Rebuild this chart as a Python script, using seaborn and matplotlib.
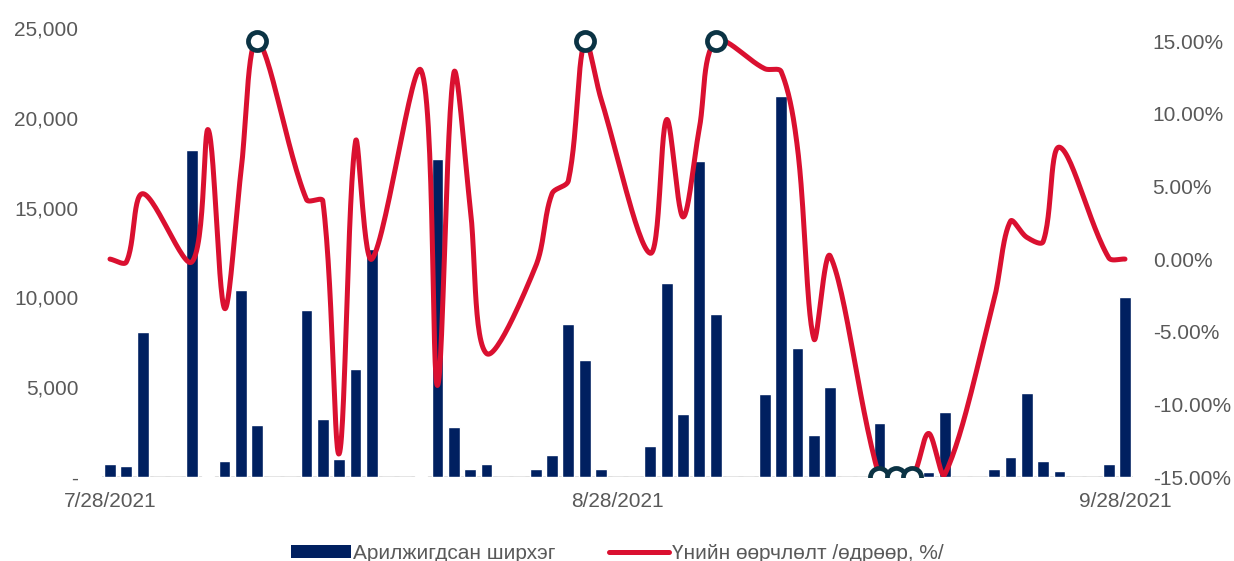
import numpy as np
import pandas as pd
import seaborn as sns
import matplotlib.pyplot as plt
from matplotlib.lines import Line2D
from matplotlib.patches import Patch

# daily data, 7/28/2021 .. 9/28/2021 (weekends: no trades, no price change point)
dates = pd.date_range('2021-07-28', '2021-09-28', freq='D')
volume = [700, 600, 8100, 0, 0, 18200, 50, 900, 10400, 2900,
          0, 0, 9300, 3250, 1000, 6000, 12700, 0, 0, 50,
          17700, 2800, 430, 720, 0, 0, 430, 1200, 8500, 6500,
          430, 0, 0, 1700, 10800, 3500, 17600, 9100, 0, 0,
          4600, 21200, 7200, 2350, 5000, 0, 0, 3000, 100, 100,
          300, 3600, 0, 0, 430, 1100, 4700, 900, 350, 0,
          0, 720, 10000]
change = [0.0, -0.2, 4.5, None, None, -0.2, 8.9, -3.4, 6.0, 15.0,
          None, None, 4.1, 4.0, -13.4, 8.1, 0.0, None, None, 13.0,
          -8.7, 12.8, 3.6, -6.5, None, None, -0.5, 4.5, 5.4, 15.0,
          11.0, None, None, 0.4, 9.6, 2.9, 9.0, 15.0, None, None,
          13.1, 12.9, 7.6, -5.5, 0.2, None, None, -15.0, -15.0, -15.0,
          -12.0, -14.8, None, None, -2.8, 2.6, 1.5, 1.2, 7.7, None,
          None, 0.1, 0.0]
tick_labels = ['7/28/2021', '8/28/2021', '9/28/2021']
legend_labels = ['Арилжигдсан ширхэг', 'Үнийн өөрчлөлт /өдрөөр, %/']

sns.set_style('white')
plt.rcParams['font.family'] = ['Liberation Sans', 'DejaVu Sans']

navy = '#002060'
red = '#DA1030'
ring = '#0B3344'
grey = '#595959'
fs = 15

df = pd.DataFrame({'date': dates, 'volume': volume,
                   'change': pd.array(change, dtype='Float64')})
df['day'] = np.arange(len(df))


def smooth_line(x, y, ky, n=30):
    # bezier through the points, control arms weighted by segment length
    p = np.column_stack([np.asarray(x, float), np.asarray(y, float) * ky])
    d = np.hypot(*np.diff(p, axis=0).T)
    t = np.linspace(0, 1, n)[:, None]
    out = []
    last = len(p) - 1
    for i in range(last):
        a = max(i - 1, 0)
        b = min(i + 2, last)
        da = d[i - 1] if i > 0 else 0.0
        db = d[i + 1] if i + 1 < last else 0.0
        c1 = p[i] + (p[i + 1] - p[a]) * d[i] / (da + d[i]) / 3
        c2 = p[i + 1] - (p[b] - p[i]) * d[i] / (d[i] + db) / 3
        seg = ((1 - t) ** 3 * p[i] + 3 * (1 - t) ** 2 * t * c1
               + 3 * (1 - t) * t ** 2 * c2 + t ** 3 * p[i + 1])
        out.append(seg)
    out = np.vstack(out)
    return out[:, 0], out[:, 1] / ky


fig = plt.figure(figsize=(12.34, 5.61), dpi=100)
ax = fig.add_axes([0.0825, 0.1497, 0.8358, 0.8003])

sns.barplot(data=df, x='day', y='volume', color=navy, width=0.72,
            saturation=1, ax=ax)
ax.set_xlim(-0.5, len(df) - 0.5)
ax.set_ylim(0, 25000)
ax.set_yticks(range(0, 25001, 5000))
ax.set_yticklabels(['-' if v == 0 else f'{v:,}' for v in range(0, 25001, 5000)])
ax.set_xticks([0, 31, 62])
ax.set_xticklabels(tick_labels)
ax.set_xlabel('')
ax.set_ylabel('')
ax.tick_params(axis='y', length=0, pad=17, labelsize=fs, labelcolor=grey)
ax.tick_params(axis='x', length=0, pad=11, labelsize=fs, labelcolor=grey)
for s in ax.spines.values():
    s.set_visible(False)
ax.axhline(0, color='#D9D9D9', lw=1.2, zorder=0)

# price change line on the right axis
ax2 = ax.twinx()
pts = df.dropna(subset=['change'])
sx, sy = smooth_line(pts['day'], pts['change'].astype(float), ky=0.888)
sns.lineplot(x=sx, y=sy, sort=False, estimator=None, color=red, lw=3.6,
             ax=ax2, zorder=3)
hits = pts[pts['change'].abs() >= 15]
sns.scatterplot(x=hits['day'], y=hits['change'].astype(float), s=170,
                facecolor='white', edgecolor=ring, linewidth=3.4, ax=ax2, zorder=5)
ax2.set_ylim(-15, 15.9)
ax2.set_yticks(range(-15, 16, 5))
ax2.set_yticklabels([f'{v:.2f}%' for v in range(-15, 16, 5)])
ax2.set_ylabel('')
ax2.set_xlabel('')
ax2.tick_params(axis='y', length=0, pad=14, labelsize=fs, labelcolor=grey)
for s in ax2.spines.values():
    s.set_visible(False)

handles = [Patch(facecolor=navy, edgecolor='none'),
           Line2D([], [], color=red, lw=3.6)]
leg = fig.legend(handles, legend_labels, loc='center', bbox_to_anchor=(0.5, 0.014),
                 ncol=2, frameon=False, fontsize=fs, handlelength=2.9,
                 handleheight=0.58, handletextpad=0.1, columnspacing=2.55)
for txt in leg.get_texts():
    txt.set_color(grey)

fig.savefig('out.png', dpi=100)
